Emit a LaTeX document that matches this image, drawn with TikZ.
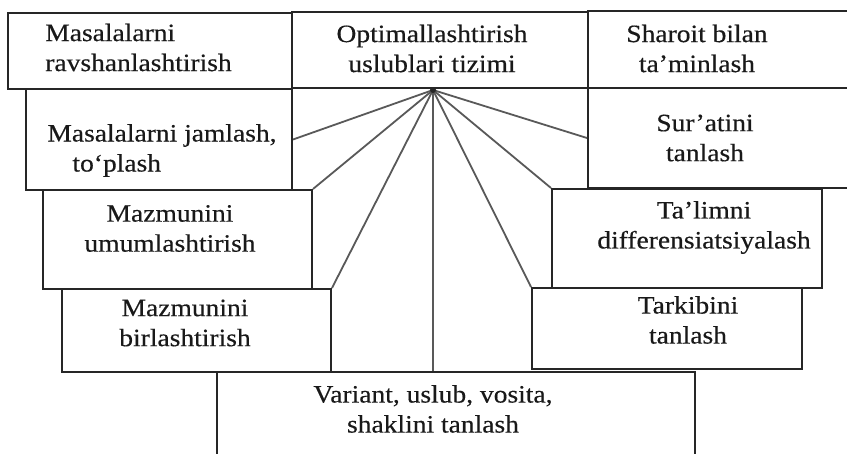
\documentclass[tikz,border=0pt]{standalone}
\usepackage{fontspec}
\setmainfont[FakeStretch=1.1, FakeBold=0.4]{Liberation Serif}
\newcommand{\lbfont}{\fontsize{25}{30}\selectfont}
\tikzset{
	frame/.style={draw=black!85, line width=2pt, inner sep=0pt},
	lbl/.style={align=center, inner sep=0pt, font=\lbfont, text=black!90},
	spoke/.style={draw=black!65, line width=1.8pt},
}
\begin{document}
\begin{tikzpicture}[x=1pt,y=-1pt]
	\clip (0,0) rectangle (847,453);
	\fill[white] (0,0) rectangle (847,453);
	% frames
	\node[frame, minimum width=284pt, minimum height=76pt](ravsh) at (150,51) {};
	\node[frame, minimum width=296pt, minimum height=76pt](tizim) at (440,50) {};
	\node[frame, minimum width=264pt, minimum height=77pt](sharoit) at (720,49.5) {};
	\node[frame, minimum width=266pt, minimum height=101pt](jamlash) at (159,139.5) {};
	\node[frame, minimum width=264pt, minimum height=100pt](surat) at (720,138) {};
	\node[frame, minimum width=269pt, minimum height=99pt](umum) at (177.5,239.5) {};
	\node[frame, minimum width=270pt, minimum height=99pt](diff) at (687,238.5) {};
	\node[frame, minimum width=269pt, minimum height=83pt](birl) at (196.5,330.5) {};
	\node[frame, minimum width=270pt, minimum height=81pt](tark) at (667,328.5) {};
	\node[frame, minimum width=478pt, minimum height=100pt](variant) at (456,422) {};
	% texts
	\node[lbl, align=left](ravsh-t) at (138.5,47.5) {Masalalarni\\ravshanlashtirish};
	\node[lbl](tizim-t) at (432,48.5) {Optimallashtirish\\uslublari tizimi};
	\node[lbl](sharoit-t) at (697,48.5) {Sharoit bilan\\ta'minlash};
	\node[lbl, align=left](jamlash-t) at (162,150.5) {Masalalarni jamlash,\\\hspace*{25pt}to`plash};
	\node[lbl](surat-t) at (705,138) {Sur'atini\\tanlash};
	\node[lbl](umum-t) at (170,228.5) {Mazmunini\\umumlashtirish};
	\node[lbl](diff-t) at (704,227.5) {Ta'limni\\differensiatsiyalash};
	\node[lbl](birl-t) at (185,323) {Mazmunini\\birlashtirish};
	\node[lbl](tark-t) at (688,320) {Tarkibini\\tanlash};
	\node[lbl](variant-t) at (433,409) {Variant, uslub, vosita,\\shaklini tanlash};
	% spokes
	\coordinate (hub) at (433,90);
	\draw[spoke] (hub) -- (jamlash.east);
	\draw[spoke] (hub) -- (umum.north east);
	\draw[spoke] (hub) -- (birl.north east);
	\draw[spoke] (hub) -- (hub |- variant.north);
	\draw[spoke] (hub) -- (tark.north west);
	\draw[spoke] (hub) -- (diff.north west);
	\draw[spoke] (hub) -- (surat.west);
	\fill[black!85] (hub) circle (3pt);
\end{tikzpicture}
\end{document}
